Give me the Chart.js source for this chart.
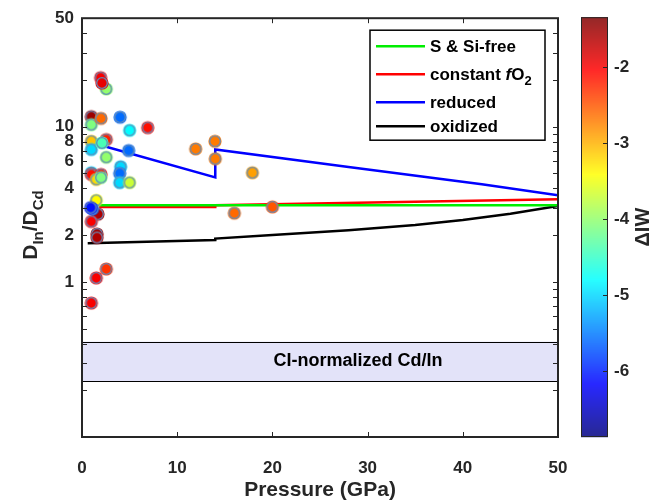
<!DOCTYPE html>
<html>
<head>
<meta charset="utf-8">
<script src="https://cdn.jsdelivr.net/npm/chart.js@4.4.1/dist/chart.umd.min.js"></script>
<style>
  html, body { margin: 0; padding: 0; background: #ffffff; }
  #wrap { width: 652px; height: 501px; position: relative; }
</style>
</head>
<body>
<div id="wrap"><canvas id="c" width="652" height="501"></canvas></div>
<script>
// ---- Experimental In/Cd partitioning data ----
const pressure = [0.98, 0.98, 2.55, 1.96, 2.1, 0.98, 2.0, 4.0, 5.0, 6.9,
                  0.98, 2.55, 2.1, 0.98, 2.55, 4.9, 0.98, 2.0, 1.5, 2.0,
                  4.06, 3.96, 3.96, 5.0, 1.5, 1.68, 0.98, 1.1, 0.91, 1.58,
                  1.58, 2.55, 1.5, 0.98, 11.94, 13.97, 14.0, 17.9, 16.0, 20.0];
const dRatio   = [11.6, 10.3, 17.5, 20.7, 19.1, 8.05, 11.3, 11.5, 9.47, 9.85,
                  7.12, 8.26, 7.86, 5.05, 6.35, 7.02, 4.92, 4.92, 4.57, 4.7,
                  5.52, 5.0, 4.36, 4.36, 3.35, 2.73, 2.45, 2.95, 3.01, 2.03,
                  1.93, 1.21, 1.06, 0.73, 7.19, 8.05, 6.21, 5.05, 2.77, 3.04];
const deltaIW  = [-1.5, -4.1, -4.0, -2.0, -1.9, -3.1, -2.6, -5.6, -4.8, -2.1,
                  -5.0, -2.2, -4.4, -5.0, -4.0, -5.6, -2.1, -2.1, -3.2, -4.1,
                  -5.0, -5.6, -5.0, -3.7, -3.4, -1.6, -2.0, -5.7, -6.1, -1.5,
                  -1.6, -2.3, -2.0, -2.0, -2.7, -2.7, -2.7, -2.9, -2.6, -2.5];

// ---- Model curves ----
const sFreeP = [1.8, 50];
const sFreeD = [3.12, 3.12];
const constP = [1.8, 14, 14, 50];
const constD = [3.03, 3.03, 3.12, 3.40];
const reducedP = [1.7, 14, 14, 28, 42, 50];
const reducedD = [7.67, 4.71, 7.13, 5.5, 4.25, 3.61];
const oxidizedP = [0.6, 14, 14, 20, 28, 35, 40, 45, 50];
const oxidizedD = [1.77, 1.86, 1.90, 2.0, 2.15, 2.32, 2.5, 2.75, 3.08];

// CI-normalized Cd/In range
const ciBand = [0.229, 0.412];

// ---- Axes / colour scale ----
const xTicks = [0, 10, 20, 30, 40, 50];
const yTickLabels = [1, 2, 4, 6, 8, 10, 50];
const cbarTicks = [-6, -5, -4, -3, -2];
const cbarRange = [-6.87, -1.34];

const FONT = "'Liberation Sans', Arial, Helvetica, sans-serif";
const AXIS_COLOR = '#262626';
const RING_COLOR = 'rgb(100,140,185)';

function clamp01(v) { return Math.max(0, Math.min(1, v)); }
function jet(v) {
  const t = clamp01((v - cbarRange[0]) / (cbarRange[1] - cbarRange[0]));
  const r = clamp01(Math.min(4 * t - 1.5, -4 * t + 4.5));
  const g = clamp01(Math.min(4 * t - 0.5, -4 * t + 3.5));
  const b = clamp01(Math.min(4 * t + 0.5, -4 * t + 2.5));
  return `rgb(${Math.round(r * 255)},${Math.round(g * 255)},${Math.round(b * 255)})`;
}

// filled marker with a thin bluish ring, one per sample
function makeMarker(color) {
  const c = document.createElement('canvas');
  c.width = 16; c.height = 16;
  const g = c.getContext('2d');
  g.fillStyle = color;
  g.beginPath(); g.arc(8, 8, 6.6, 0, Math.PI * 2); g.fill();
  g.strokeStyle = RING_COLOR; g.lineWidth = 1.3;
  g.beginPath(); g.arc(8, 8, 5.3, 0, Math.PI * 2); g.stroke();
  return c;
}
const markers = deltaIW.map(v => makeMarker(jet(v)));

// log-axis tick positions: 0.1 ... 50
const yTickValues = [];
[0.1, 1, 10].forEach(d => { for (let k = 1; k <= 9; k++) { const v = +(d * k).toPrecision(6); if (v <= 50) yTickValues.push(v); } });
yTickValues.push(50);
const yTicksUnique = [...new Set(yTickValues)];

function pts(xs, ys) { return xs.map((x, i) => ({ x, y: ys[i] })); }

const legendItems = [
  { color: '#00ee00', parts: [['S & Si-free', 'bold']] },
  { color: '#ff0000', parts: [['constant ', 'bold'], ['f', 'italic bold'], ['O', 'bold'], ['2', 'sub']] },
  { color: '#0000ff', parts: [['reduced', 'bold']] },
  { color: '#000000', parts: [['oxidized', 'bold']] }
];

const deco = {
  id: 'deco',
  beforeDatasetsDraw(chart) {
    const { ctx, scales: { x, y } } = chart;
    const yt = y.getPixelForValue(ciBand[1]);
    const yb = y.getPixelForValue(ciBand[0]);
    const xl = x.getPixelForValue(0), xr = x.getPixelForValue(50);
    ctx.save();
    ctx.fillStyle = '#e3e3f9';
    ctx.fillRect(xl, yt, xr - xl, yb - yt);
    ctx.strokeStyle = '#000';
    ctx.lineWidth = 1;
    ctx.beginPath();
    ctx.moveTo(xl, Math.round(yt) + 0.5); ctx.lineTo(xr, Math.round(yt) + 0.5);
    ctx.moveTo(xl, Math.round(yb) + 0.5); ctx.lineTo(xr, Math.round(yb) + 0.5);
    ctx.stroke();
    ctx.fillStyle = '#000';
    ctx.font = `bold 18px ${FONT}`;
    ctx.textAlign = 'center';
    ctx.textBaseline = 'middle';
    ctx.fillText('CI-normalized Cd/In', x.getPixelForValue(29), y.getPixelForValue(Math.sqrt(ciBand[0] * ciBand[1])));
    ctx.restore();
  },
  afterDatasetsDraw(chart) {
    const { ctx, chartArea: a, scales: { x, y } } = chart;
    ctx.save();
    // inward tick marks on all four sides
    ctx.strokeStyle = AXIS_COLOR;
    ctx.lineWidth = 1;
    ctx.beginPath();
    y.ticks.forEach(t => {
      const py = Math.round(y.getPixelForValue(t.value)) + 0.5;
      ctx.moveTo(a.left, py); ctx.lineTo(a.left + 5, py);
      ctx.moveTo(a.right, py); ctx.lineTo(a.right - 5, py);
    });
    x.ticks.forEach(t => {
      const px = Math.round(x.getPixelForValue(t.value)) + 0.5;
      ctx.moveTo(px, a.bottom); ctx.lineTo(px, a.bottom - 5);
      ctx.moveTo(px, a.top); ctx.lineTo(px, a.top + 5);
    });
    ctx.stroke();
    // frame
    ctx.lineWidth = 2;
    ctx.strokeRect(a.left, a.top, a.right - a.left, a.bottom - a.top);

    // legend
    const bx = a.right - 188, by = a.top + 12, bw = 175, bh = 110;
    ctx.fillStyle = '#fff';
    ctx.fillRect(bx, by, bw, bh);
    ctx.strokeStyle = '#000';
    ctx.lineWidth = 1.5;
    ctx.strokeRect(bx, by, bw, bh);
    const rows = [16, 44, 72, 96];
    legendItems.forEach((it, i) => {
      const cy = by + rows[i];
      ctx.strokeStyle = it.color;
      ctx.lineWidth = 2.5;
      ctx.beginPath(); ctx.moveTo(bx + 6, cy); ctx.lineTo(bx + 55, cy); ctx.stroke();
      let tx = bx + 60;
      ctx.fillStyle = '#000';
      ctx.textAlign = 'left';
      ctx.textBaseline = 'alphabetic';
      it.parts.forEach(([s, style]) => {
        let dy = 6;
        if (style === 'sub') { ctx.font = `bold 13px ${FONT}`; dy = 11; }
        else ctx.font = `${style} 17px ${FONT}`;
        ctx.fillText(s, tx, cy + dy);
        tx += ctx.measureText(s).width;
      });
    });
    ctx.restore();
  },
  afterDraw(chart) {
    const { ctx, chartArea: a } = chart;
    ctx.save();
    // colour bar
    const cx0 = a.right + 23, cx1 = a.right + 50;
    const cTop = a.top - 1, cBot = a.bottom;
    for (let py = cTop; py < cBot; py++) {
      const v = cbarRange[1] - (py + 0.5 - cTop) / (cBot - cTop) * (cbarRange[1] - cbarRange[0]);
      ctx.fillStyle = jet(v);
      ctx.fillRect(cx0, py, cx1 - cx0, 1);
    }
    ctx.strokeStyle = AXIS_COLOR;
    ctx.lineWidth = 1;
    ctx.strokeRect(cx0 + 0.5, cTop + 0.5, cx1 - cx0 - 1, cBot - cTop - 1);
    ctx.fillStyle = AXIS_COLOR;
    ctx.font = `bold 17px ${FONT}`;
    ctx.textAlign = 'left';
    ctx.textBaseline = 'middle';
    cbarTicks.forEach(v => {
      const py = Math.round(cTop + (cbarRange[1] - v) / (cbarRange[1] - cbarRange[0]) * (cBot - cTop)) + 0.5;
      ctx.beginPath(); ctx.moveTo(cx1, py); ctx.lineTo(cx1 - 5, py); ctx.stroke();
      ctx.fillText(String(v), cx1 + 6, py);
    });
    // colour bar title
    ctx.save();
    ctx.translate(649, (cTop + cBot) / 2);
    ctx.rotate(-Math.PI / 2);
    ctx.textAlign = 'center';
    ctx.textBaseline = 'alphabetic';
    ctx.font = `bold 20px ${FONT}`;
    ctx.fillText('\u0394IW', 0, 0);
    ctx.restore();

    // x title
    ctx.fillStyle = AXIS_COLOR;
    ctx.font = `bold 21px ${FONT}`;
    ctx.textAlign = 'center';
    ctx.textBaseline = 'middle';
    ctx.fillText('Pressure (GPa)', (a.left + a.right) / 2, 490);

    // y title with subscripts
    const parts = [['D', 21, 0], ['In', 15, 6], ['/D', 21, 0], ['Cd', 15, 6]];
    let total = 0;
    parts.forEach(([s, f]) => { ctx.font = `bold ${f}px ${FONT}`; total += ctx.measureText(s).width; });
    ctx.save();
    ctx.translate(37, 225);
    ctx.rotate(-Math.PI / 2);
    ctx.textAlign = 'left';
    ctx.textBaseline = 'alphabetic';
    let tx = -total / 2;
    parts.forEach(([s, f, dy]) => {
      ctx.font = `bold ${f}px ${FONT}`;
      ctx.fillText(s, tx, dy);
      tx += ctx.measureText(s).width;
    });
    ctx.restore();
    ctx.restore();
  }
};

Chart.defaults.font.family = FONT;
Chart.defaults.color = AXIS_COLOR;

const lineDs = (label, xs, ys, color) => ({
  type: 'line', label, data: pts(xs, ys), borderColor: color, borderWidth: 2.5,
  pointRadius: 0, fill: false, tension: 0, order: 2
});

new Chart(document.getElementById('c'), {
  type: 'scatter',
  data: {
    datasets: [
      {
        label: 'experiments', data: pts(pressure, dRatio), order: 0,
        pointRadius: 6, pointStyle: ctx => markers[ctx.dataIndex]
      },
      lineDs('S & Si-free', sFreeP, sFreeD, '#00ee00'),
      lineDs('constant fO2', constP, constD, '#ff0000'),
      lineDs('reduced', reducedP, reducedD, '#0000ff'),
      lineDs('oxidized', oxidizedP, oxidizedD, '#000000')
    ]
  },
  options: {
    responsive: false,
    animation: false,
    events: [],
    layout: { padding: { left: 0, right: 94, top: 16, bottom: 0 } },
    plugins: { legend: { display: false }, tooltip: { enabled: false } },
    scales: {
      x: {
        type: 'linear', min: 0, max: 50,
        afterBuildTicks: s => { s.ticks = xTicks.map(v => ({ value: v })); },
        afterFit: s => { s.height = 64; },
        grid: { display: false, drawTicks: false },
        border: { display: false },
        ticks: { font: { size: 17, weight: 'bold' }, padding: 21, color: AXIS_COLOR }
      },
      y: {
        type: 'logarithmic', min: 0.1, max: 50,
        afterBuildTicks: s => { s.ticks = yTicksUnique.map(v => ({ value: v })); },
        afterFit: s => { s.width = 82; },
        grid: { display: false, drawTicks: false },
        border: { display: false },
        ticks: {
          autoSkip: false, padding: 8, color: AXIS_COLOR,
          font: { size: 17, weight: 'bold' },
          callback: v => yTickLabels.some(l => Math.abs(l - v) < 1e-9) ? String(v) : ''
        }
      }
    }
  },
  plugins: [deco]
});
</script>
</body>
</html>
